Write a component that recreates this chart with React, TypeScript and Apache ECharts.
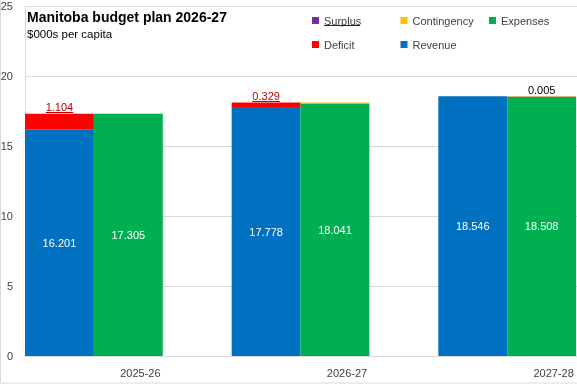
import React, { useEffect, useRef } from 'react';
import * as echarts from 'echarts';

const categories = ['2025-26', '2026-27', '2027-28'];
const revenue = [16.201, 17.778, 18.546];
const deficit: (number | null)[] = [1.104, 0.329, null];
const expenses = [17.305, 18.041, 18.508];
const contingency: (number | null)[] = [null, 0.066, 0.033];
const surplus: (number | null)[] = [null, null, 0.005];
const yMin = 0;
const yMax = 25;
const yStep = 5;
const legendRow1 = ['Surplus', 'Contingency', 'Expenses'];
const legendRow2 = ['Deficit', 'Revenue'];
const titleText = 'Manitoba budget plan 2026-27';
const subtitleText = '$000s per capita';

const COLORS: Record<string, string> = {
  Revenue: '#0070c0',
  Deficit: '#ff0000',
  Expenses: '#00b050',
  Contingency: '#ffc000',
  Surplus: '#7030a0',
};
const FONT = 'Liberation Sans, Arial, sans-serif';
const fmt = (p: any) => (p.value == null ? '' : Number(p.value).toFixed(3));

export default function App() {
  const ref = useRef<HTMLDivElement>(null);
  useEffect(() => {
    if (!ref.current) return;
    const chart = echarts.init(ref.current, null, { renderer: 'svg' });
    const barCommon = {
      type: 'bar' as const,
      barGap: '0%',
      barCategoryGap: '0%',
    };
    const legends = [
      ...legendRow1.map((n, i) => ({ name: n, left: 312 + i * 88.5, top: 15 })),
      ...legendRow2.map((n, i) => ({ name: n, left: 312 + i * 88.5, top: 39 })),
    ].map((l) => ({
      data: [l.name],
      left: l.left,
      top: l.top,
      padding: 0,
      itemWidth: 7,
      itemHeight: 7,
      icon: 'rect',
      selectedMode: false,
      textStyle: { fontSize: 11, color: '#404040', fontFamily: FONT },
    }));

    chart.setOption({
      animation: false,
      textStyle: { fontFamily: FONT },
      legend: legends,
      grid: { left: 25, top: 6, width: 620, bottom: 28, outerBoundsMode: 'none', containLabel: false },
      xAxis: {
        type: 'category',
        data: categories,
        axisLine: { show: true, lineStyle: { color: '#d9d9d9', width: 1 } },
        axisTick: { show: false },
        axisLabel: { fontSize: 11, color: '#404040', margin: 11, padding: [0, 0, 0, 24] },
      },
      yAxis: {
        type: 'value',
        min: yMin,
        max: yMax,
        interval: yStep,
        axisLine: { show: true, lineStyle: { color: '#d9d9d9', width: 1 } },
        axisTick: { show: false },
        splitLine: { show: true, lineStyle: { color: '#d9d9d9', width: 1 } },
        axisLabel: { fontSize: 11, color: '#404040', margin: 12 },
      },
      series: [
        {
          ...barCommon,
          name: 'Revenue',
          stack: 'rev',
          data: revenue,
          itemStyle: { color: COLORS.Revenue },
          label: { show: true, position: 'inside', color: '#ffffff', fontSize: 11, formatter: fmt },
        },
        {
          ...barCommon,
          name: 'Deficit',
          stack: 'rev',
          data: deficit,
          itemStyle: { color: COLORS.Deficit },
          label: { show: true, position: 'top', distance: 1, color: '#c00000', fontSize: 11, formatter: fmt },
        },
        {
          ...barCommon,
          name: 'Expenses',
          stack: 'exp',
          data: expenses,
          itemStyle: { color: COLORS.Expenses },
          label: { show: true, position: 'inside', color: '#ffffff', fontSize: 11, formatter: fmt },
        },
        {
          ...barCommon,
          name: 'Contingency',
          stack: 'exp',
          data: contingency,
          itemStyle: { color: COLORS.Contingency },
          label: { show: false },
        },
        {
          ...barCommon,
          name: 'Surplus',
          stack: 'exp',
          data: surplus,
          itemStyle: { color: COLORS.Surplus },
          label: { show: true, position: 'top', distance: 1, color: '#000000', fontSize: 11, formatter: fmt },
        },
        {
          ...barCommon,
          name: 'pad',
          stack: 'pad',
          data: categories.map(() => null),
          silent: true,
          itemStyle: { color: 'transparent' },
        },
      ],
      graphic: [
        {
          id: 'border',
          type: 'rect',
          shape: { x: 0.5, y: -10, width: 700, height: 393 },
          style: { fill: 'none', stroke: '#d9d9d9', lineWidth: 1 },
          silent: true,
        },
        {
          id: 'title',
          type: 'text',
          x: 27,
          y: 10,
          style: { text: titleText, font: `bold 14px ${FONT}`, fill: '#000000', textVerticalAlign: 'top' },
        },
        {
          id: 'subtitle',
          type: 'text',
          x: 27,
          y: 28,
          style: { text: subtitleText, font: `11.5px ${FONT}`, fill: '#000000', textVerticalAlign: 'top' },
        },
        {
          id: 'surplusUnderline',
          type: 'line',
          shape: { x1: 324, y1: 25.5, x2: 360, y2: 25.5 },
          style: { stroke: '#262626', lineWidth: 1 },
          silent: true,
        },
      ],
    });

    // Underline the deficit labels, positioned from the bar layout computed by ECharts
    try {
      const model = (chart as any).getModel();
      const data = model.getSeriesByIndex(1).getData();
      const ctx = document.createElement('canvas').getContext('2d');
      if (ctx) ctx.font = `11px ${FONT}`;
      const extra: any[] = [];
      deficit.forEach((v, i) => {
        if (v == null) return;
        const lay = data.getItemLayout(i);
        if (!lay) return;
        const top = Math.min(lay.y, lay.y + lay.height);
        const cx = lay.x + lay.width / 2;
        const w = ctx ? ctx.measureText(Number(v).toFixed(3)).width : 27;
        extra.push({
          id: 'ul' + i,
          type: 'line',
          shape: { x1: cx - w / 2, y1: Math.round(top - 2) + 0.5, x2: cx + w / 2, y2: Math.round(top - 2) + 0.5 },
          style: { stroke: '#c00000', lineWidth: 1 },
          silent: true,
        });
      });
      chart.setOption({ graphic: extra });
    } catch (e) {
      // ignore
    }

    return () => chart.dispose();
  }, []);
  return <div ref={ref} style={{ position: 'fixed', left: 0, top: 0, width: 577, height: 384 }} />;
}
